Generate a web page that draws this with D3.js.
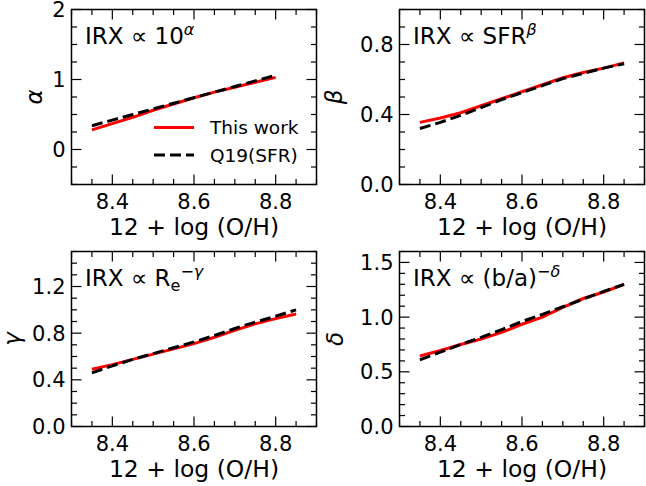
<!DOCTYPE html>
<html>
<head>
<meta charset="utf-8">
<script src="https://cdn.jsdelivr.net/npm/d3@7"></script>
<style>
  body { margin: 0; background: #fff; }
  svg { display: block; font-family: "DejaVu Sans", sans-serif; }
</style>
</head>
<body>
<svg id="chart" width="646" height="486"></svg>
<script>
// metallicity grid, 12 + log(O/H)
const oh = [8.35, 8.40, 8.45, 8.50, 8.55, 8.60, 8.65, 8.70, 8.75, 8.80, 8.85];

// slopes (this work vs Q19 SFR-based)
const alphaThis = [0.28, 0.37, 0.46, 0.56, 0.65, 0.74, 0.82, 0.89, 0.96, 1.03];
const alphaQ19  = [0.34, 0.42, 0.50, 0.58, 0.66, 0.74, 0.82, 0.90, 0.98, 1.06];
const betaThis  = [0.355, 0.38, 0.41, 0.45, 0.49, 0.53, 0.57, 0.61, 0.64, 0.665, 0.695];
const betaQ19   = [0.32, 0.355, 0.395, 0.44, 0.485, 0.525, 0.565, 0.605, 0.635, 0.665, 0.69];
const gammaThis = [0.49, 0.53, 0.575, 0.62, 0.665, 0.71, 0.765, 0.825, 0.88, 0.925, 0.965];
const gammaQ19  = [0.46, 0.52, 0.575, 0.625, 0.675, 0.725, 0.78, 0.84, 0.895, 0.945, 1.0];
const deltaThis = [0.645, 0.695, 0.75, 0.80, 0.86, 0.935, 1.0, 1.09, 1.17, 1.23, 1.30];
const deltaQ19  = [0.61, 0.68, 0.75, 0.815, 0.885, 0.96, 1.025, 1.095, 1.165, 1.235, 1.30];

const xTicks = [8.4, 8.6, 8.8];
const legendLabels = ["This work", "Q19(SFR)"];

const RED = "#ff0000", BLACK = "#000000";

// panel layout + axes options
const panels = [
  { left: 71.5,  top: 9.5,   ys: [-0.5, 2],  yticks: [0, 1, 2],            minor: 0.25, fmt: d3.format("d"),
    ylab: "α", labX: -30, note: [["IRX ∝ 10", 0], ["α", 1]], a: alphaThis, b: alphaQ19, legend: true },
  { left: 399.5, top: 9.5,   ys: [0, 1.0],   yticks: [0, 0.4, 0.8],        minor: 0.1,  fmt: d3.format(".1f"),
    ylab: "β", labX: -58, note: [["IRX ∝ SFR", 0], ["β", 1]], a: betaThis, b: betaQ19 },
  { left: 71.5,  top: 251.5, ys: [0, 1.5],   yticks: [0, 0.4, 0.8, 1.2],   minor: 0.1,  fmt: d3.format(".1f"),
    ylab: "γ", labX: -52, note: [["IRX ∝ R", 0], ["e", -1], ["−γ", 2]], a: gammaThis, b: gammaQ19 },
  { left: 399.5, top: 251.5, ys: [0, 1.6],   yticks: [0, 0.5, 1.0, 1.5],   minor: 0.1,  fmt: d3.format(".1f"),
    ylab: "δ", labX: -57, note: [["IRX ∝ (b/a)", 0], ["−δ", 1]], a: deltaThis, b: deltaQ19 }
];

const W = 245, H = 175;
const svg = d3.select("#chart");

panels.forEach(p => {
  const g = svg.append("g").attr("transform", `translate(${p.left},${p.top})`);
  const x = d3.scaleLinear().domain([8.3, 8.9]).range([0, W]);
  const y = d3.scaleLinear().domain(p.ys).range([H, 0]);

  // inward ticks on all four sides
  const xMinor = d3.range(8.3, 8.9001, 0.05);
  const yMinor = d3.range(p.ys[0], p.ys[1] + 1e-6, p.minor);
  const tickG = g.append("g").attr("stroke", "#000").attr("stroke-width", 1.2);
  xMinor.forEach(v => {
    const maj = xTicks.some(t => Math.abs(t - v) < 1e-6);
    const len = maj ? 10 : 5.5;
    tickG.append("line").attr("x1", x(v)).attr("x2", x(v)).attr("y1", H).attr("y2", H - len);
    tickG.append("line").attr("x1", x(v)).attr("x2", x(v)).attr("y1", 0).attr("y2", len);
  });
  yMinor.forEach(v => {
    const maj = p.yticks.some(t => Math.abs(t - v) < 1e-6);
    const len = maj ? 10 : 5.5;
    tickG.append("line").attr("x1", 0).attr("x2", len).attr("y1", y(v)).attr("y2", y(v));
    tickG.append("line").attr("x1", W).attr("x2", W - len).attr("y1", y(v)).attr("y2", y(v));
  });

  // tick labels
  g.append("g").selectAll("text").data(xTicks).join("text")
    .attr("x", d => x(d)).attr("y", H + 24)
    .attr("text-anchor", "middle").attr("font-size", 21)
    .text(d => d.toFixed(1));
  g.append("g").selectAll("text").data(p.yticks).join("text")
    .attr("x", -6).attr("y", d => y(d)).attr("dy", "0.36em")
    .attr("text-anchor", "end").attr("font-size", 21)
    .text(d => p.fmt(d));

  // axis labels
  g.append("text").attr("x", W / 2).attr("y", H + 50)
    .attr("text-anchor", "middle").attr("font-size", 23.5)
    .text("12 + log (O/H)");
  g.append("text")
    .attr("transform", `translate(${p.labX},${H / 2}) rotate(-90)`)
    .attr("text-anchor", "middle").attr("font-size", 23).attr("font-style", "italic")
    .text(p.ylab);

  // curves
  const line = d3.line().x((d, i) => x(oh[i])).y(d => y(d));
  g.append("path").datum(p.a).attr("d", line)
    .attr("fill", "none").attr("stroke", RED).attr("stroke-width", 3);
  g.append("path").datum(p.b).attr("d", line)
    .attr("fill", "none").attr("stroke", BLACK).attr("stroke-width", 3)
    .attr("stroke-dasharray", "11,5");

  // annotation with super/subscripts
  const t = g.append("text").attr("x", 13.5).attr("y", 34).attr("font-size", 23);
  let shift = 0;
  p.note.forEach(([s, kind]) => {
    const ts = t.append("tspan").text(s);
    let target = 0;
    if (kind === 1 || kind === 2) target = -9;
    if (kind === -1) target = 5;
    if (kind !== 0) {
      ts.attr("font-size", 16);
      if (kind !== -1) ts.attr("font-style", "italic");
    }
    ts.attr("dy", target - shift);
    shift = target;
  });

  // frame
  g.append("rect").attr("width", W).attr("height", H)
    .attr("fill", "none").attr("stroke", "#000").attr("stroke-width", 1.5);

  // legend in first panel, lower right
  if (p.legend) {
    const lg = g.append("g").attr("transform", "translate(82.5,118)");
    legendLabels.forEach((lab, i) => {
      const row = lg.append("g").attr("transform", `translate(0,${i * 27.5})`);
      row.append("line").attr("x1", 0).attr("x2", 40)
        .attr("stroke", i ? BLACK : RED).attr("stroke-width", 3)
        .attr("stroke-dasharray", i ? "11,5" : null);
      row.append("text").attr("x", 56).attr("dy", "0.36em")
        .attr("font-size", 18.5).text(lab);
    });
  }
});
</script>
</body>
</html>
